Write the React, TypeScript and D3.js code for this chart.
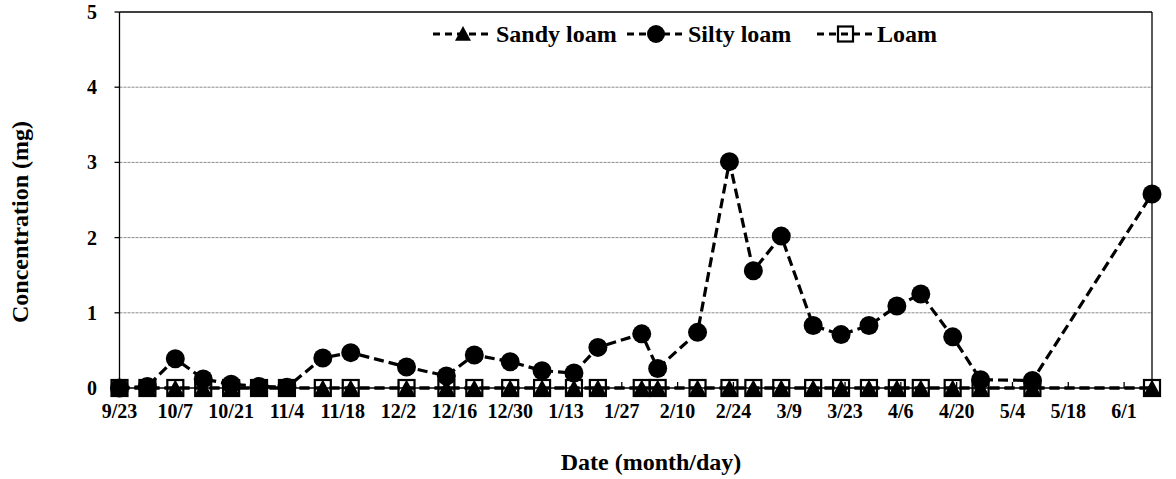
import React from "react";
import * as d3 from "d3";

const dates = [
  "2015-09-23","2015-09-30","2015-10-07","2015-10-14","2015-10-21","2015-10-28","2015-11-04",
  "2015-11-13","2015-11-20","2015-12-04","2015-12-14","2015-12-21","2015-12-30","2016-01-07",
  "2016-01-15","2016-01-21","2016-02-01","2016-02-05","2016-02-15","2016-02-23","2016-02-29",
  "2016-03-07","2016-03-15","2016-03-22","2016-03-29","2016-04-05","2016-04-11","2016-04-19",
  "2016-04-26","2016-05-09","2016-06-08",
];
const sandyLoam = [0,0,0,0,0,0,0,0,0,0,0,0,0,0,0,0,0,0,0,0,0,0,0,0,0,0,0,0,0,0,0];
const siltyLoam = [
  0, 0.02, 0.39, 0.12, 0.05, 0.02, 0.01, 0.40, 0.47, 0.28, 0.16, 0.44, 0.35, 0.23, 0.20, 0.54,
  0.72, 0.26, 0.74, 3.01, 1.56, 2.02, 0.83, 0.71, 0.83, 1.09, 1.25, 0.68, 0.11, 0.10, 2.58,
];
const loam = [0,0,0,0,0,0,0,0,0,0,0,0,0,0,0,0,0,0,0,0,0,0,0,0,0,0,0,0,0,0,0];
const xTickLabels = ["9/23","10/7","10/21","11/4","11/18","12/2","12/16","12/30","1/13","1/27","2/10","2/24","3/9","3/23","4/6","4/20","5/4","5/18","6/1"];
const yTicks = [0, 1, 2, 3, 4, 5];
const seriesNames = ["Sandy loam", "Silty loam", "Loam"];
const xDomain = ["2015-09-23", "2016-06-08"];

const W = 1176, H = 479;
const M = { left: 119.5, right: 1152, top: 12, bottom: 388 };
const FONT = "'Times New Roman', 'Liberation Serif', serif";
const DASH = "10 5";

const parse = d3.timeParse("%Y-%m-%d");

export default function App() {
  const x = d3.scaleTime().domain(xDomain.map((d) => parse(d) as Date)).range([M.left, M.right]);
  const y = d3.scaleLinear().domain([0, 5]).range([M.bottom, M.top]);
  const start = parse(xDomain[0]) as Date;
  const tickDates = xTickLabels.map((_, i) => d3.timeDay.offset(start, 14 * i));

  const series = [sandyLoam, siltyLoam, loam].map((vals) =>
    vals.map((v, i) => ({ date: parse(dates[i]) as Date, v }))
  );
  const line = d3
    .line<{ date: Date; v: number }>()
    .x((d) => x(d.date))
    .y((d) => y(d.v));

  const triPath = (cx: number, cy: number, s = 8.5) =>
    `M${cx},${cy - s} L${cx + s},${cy + s * 0.85} L${cx - s},${cy + s * 0.85} Z`;

  const marker = (k: number, cx: number, cy: number, key: string, legend = false) => {
    if (k === 0) return <path key={key} d={triPath(cx, cy, legend ? 8 : 8.5)} fill="#000" />;
    if (k === 1) return <circle key={key} cx={cx} cy={cy} r={legend ? 9 : 9.5} fill="#000" />;
    const h = legend ? 7.5 : 8;
    return <rect key={key} x={cx - h} y={cy - h} width={2 * h} height={2 * h} fill="none" stroke="#000" strokeWidth={2.2} />;
  };

  const legend = [
    { x1: 433, x2: 493, tx: 496 },
    { x1: 627, x2: 685, tx: 688 },
    { x1: 817, x2: 874, tx: 877 },
  ];
  const legendY = 34;

  return (
    <svg width={W} height={H} style={{ position: "absolute", left: 0, top: 0, background: "#fff" }} fontFamily={FONT}>
      {yTicks.filter((t) => t > 0 && t < 5).map((t) => (
        <line key={"g" + t} x1={M.left} x2={M.right} y1={y(t)} y2={y(t)} stroke="#8a8a8a" strokeWidth={1} strokeDasharray="3 1" />
      ))}
      <line x1={M.left} x2={M.right} y1={M.top} y2={M.top} stroke="#000" strokeWidth={1.3} />
      <line x1={M.right} x2={M.right} y1={M.top} y2={M.bottom} stroke="#000" strokeWidth={1.3} />
      <line x1={M.left} x2={M.left} y1={M.top} y2={M.bottom} stroke="#000" strokeWidth={1.3} />
      <line x1={M.left} x2={M.right} y1={M.bottom} y2={M.bottom} stroke="#000" strokeWidth={1.3} />
      {yTicks.map((t) => (
        <g key={"y" + t}>
          <line x1={M.left - 5} x2={M.left} y1={y(t)} y2={y(t)} stroke="#000" strokeWidth={1.3} />
          <text x={97} y={y(t)} dy="0.35em" textAnchor="end" fontSize={20} fontWeight="bold">{t}</text>
        </g>
      ))}
      {tickDates.map((d, i) => (
        <g key={"x" + i}>
          <line x1={x(d)} x2={x(d)} y1={M.bottom} y2={M.bottom - 6} stroke="#000" strokeWidth={1.3} />
          <text x={x(d)} y={418} textAnchor="middle" fontSize={20} fontWeight="bold">{xTickLabels[i]}</text>
        </g>
      ))}
      {series.map((s, k) => (
        <path key={"l" + k} d={line(s) || ""} fill="none" stroke="#000" strokeWidth={3.2} strokeDasharray={DASH} />
      ))}
      {series.map((s, k) => s.map((p, i) => marker(k, x(p.date), y(p.v), `m${k}-${i}`)))}
      {legend.map((l, k) => (
        <g key={"lg" + k}>
          <line x1={l.x1} x2={l.x2} y1={legendY} y2={legendY} stroke="#000" strokeWidth={3.2} strokeDasharray="7 5" />
          {marker(k, (l.x1 + l.x2) / 2, legendY, "lm" + k, true)}
          <text x={l.tx} y={legendY} dy="0.35em" fontSize={24} fontWeight="bold">{seriesNames[k]}</text>
        </g>
      ))}
      <text x={651} y={470} textAnchor="middle" fontSize={24} fontWeight="bold">Date (month/day)</text>
      <text transform={`translate(28,222) rotate(-90)`} textAnchor="middle" fontSize={24} fontWeight="bold">Concentration (mg)</text>
    </svg>
  );
}
